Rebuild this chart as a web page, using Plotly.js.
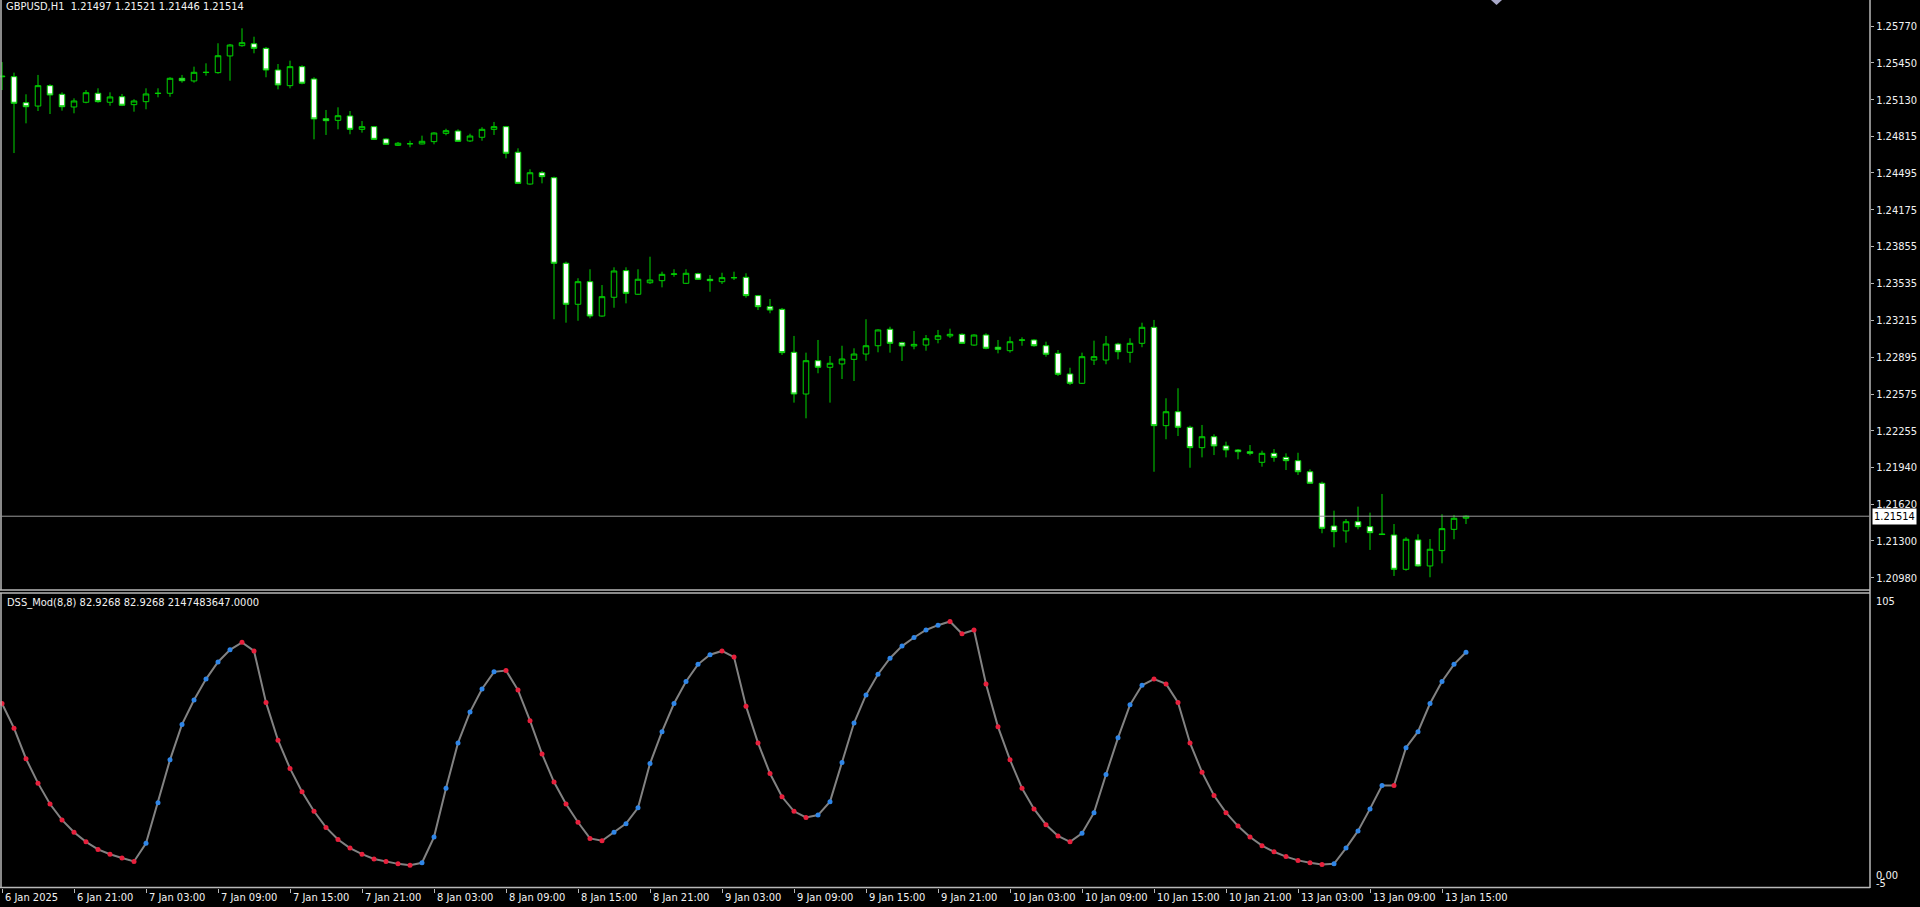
<!DOCTYPE html>
<html>
<head>
<meta charset="utf-8">
<script src="https://cdn.plot.ly/plotly-3.0.1.min.js"></script>
<style>
html,body{margin:0;padding:0;background:#000;}
#chart{width:1920px;height:907px;}
</style>
</head>
<body>
<div id="chart"></div>
<script>
// ---- data (GBPUSD H1, one bar per hour) ----
const openP = [1.25336,1.25330,1.25104,1.25075,1.25252,1.25177,1.25067,1.25108,1.25186,1.25108,
1.25156,1.25087,1.25113,1.25184,1.25186,1.25316,1.25293,1.25366,1.25365,1.25510,
1.25599,1.25616,1.25576,1.25388,1.25252,1.25417,1.25310,1.24965,1.24951,1.24989,
1.24873,1.24896,1.24789,1.24734,1.24747,1.24746,1.24766,1.24838,1.24858,1.24772,
1.24804,1.24873,1.24896,1.24674,1.24398,1.24496,1.24453,1.23710,1.23354,1.23550,
1.23252,1.23415,1.23646,1.23441,1.23541,1.23559,1.23614,1.23536,1.23620,1.23571,
1.23550,1.23584,1.23588,1.23429,1.23333,1.23310,1.22937,1.22575,1.22864,1.22807,
1.22836,1.22876,1.22922,1.22994,1.23137,1.23020,1.22992,1.23000,1.23050,1.23079,
1.23093,1.23000,1.23087,1.22981,1.22951,1.23042,1.23044,1.22994,1.22928,1.22749,
1.22668,1.22870,1.22870,1.23009,1.22937,1.23015,1.23154,1.22300,1.22421,1.22286,
1.22109,1.22204,1.22124,1.22089,1.22074,1.21982,1.22060,1.22025,1.21996,1.21900,
1.21800,1.21429,1.21386,1.21466,1.21423,1.21360,1.21351,1.21053,1.21308,1.21082,
1.21215,1.21400,1.21497];
const highP = [1.25457,1.25365,1.25177,1.25345,1.25264,1.25194,1.25142,1.25214,1.25229,1.25194,
1.25180,1.25134,1.25229,1.25229,1.25325,1.25345,1.25417,1.25446,1.25620,1.25614,
1.25750,1.25677,1.25588,1.25440,1.25469,1.25429,1.25325,1.25041,1.25064,1.25032,
1.24945,1.24902,1.24795,1.24763,1.24774,1.24818,1.24847,1.24878,1.24873,1.24835,
1.24891,1.24937,1.24902,1.24708,1.24526,1.24511,1.24462,1.23724,1.23580,1.23658,
1.23521,1.23675,1.23675,1.23658,1.23767,1.23637,1.23658,1.23658,1.23628,1.23608,
1.23628,1.23637,1.23623,1.23435,1.23400,1.23322,1.23079,1.22934,1.23044,1.22905,
1.22994,1.22972,1.23224,1.23137,1.23159,1.23029,1.23122,1.23087,1.23131,1.23142,
1.23102,1.23093,1.23102,1.23044,1.23073,1.23067,1.23050,1.23029,1.22957,1.22803,
1.22934,1.23038,1.23079,1.23020,1.23059,1.23194,1.23218,1.22538,1.22625,1.22300,
1.22306,1.22225,1.22161,1.22097,1.22132,1.22083,1.22097,1.22060,1.22065,1.21921,
1.21814,1.21562,1.21490,1.21597,1.21545,1.21707,1.21446,1.21331,1.21357,1.21316,
1.21531,1.21525,1.21521];
const lowP = [1.25214,1.24667,1.24925,1.25032,1.25006,1.25035,1.25012,1.25099,1.25104,1.25078,
1.25075,1.25026,1.25047,1.25151,1.25156,1.25278,1.25278,1.25339,1.25356,1.25295,
1.25590,1.25533,1.25325,1.25220,1.25229,1.25264,1.24786,1.24824,1.24873,1.24830,
1.24844,1.24780,1.24737,1.24728,1.24717,1.24743,1.24743,1.24821,1.24763,1.24763,
1.24774,1.24824,1.24621,1.24398,1.24392,1.24404,1.23224,1.23194,1.23211,1.23232,
1.23246,1.23324,1.23362,1.23435,1.23530,1.23501,1.23593,1.23530,1.23565,1.23463,
1.23530,1.23565,1.23411,1.23304,1.23276,1.22914,1.22500,1.22364,1.22755,1.22500,
1.22705,1.22688,1.22864,1.22937,1.22934,1.22862,1.22963,1.22951,1.23015,1.23061,
1.23009,1.22994,1.22963,1.22928,1.22934,1.22994,1.22986,1.22899,1.22731,1.22653,
1.22662,1.22827,1.22833,1.22876,1.22847,1.22981,1.21900,1.22182,1.22210,1.21935,
1.22025,1.22045,1.22025,1.22008,1.22043,1.21944,1.21987,1.21915,1.21872,1.21794,
1.21366,1.21244,1.21284,1.21400,1.21221,1.21351,1.20995,1.21041,1.21076,1.20984,
1.21105,1.21314,1.21446];
const closeP = [1.25330,1.25099,1.25069,1.25252,1.25171,1.25069,1.25119,1.25191,1.25113,1.25154,
1.25082,1.25119,1.25180,1.25186,1.25316,1.25295,1.25368,1.25368,1.25512,1.25605,
1.25625,1.25576,1.25388,1.25258,1.25417,1.25273,1.24963,1.24948,1.24991,1.24873,
1.24896,1.24786,1.24743,1.24752,1.24748,1.24769,1.24841,1.24861,1.24769,1.24815,
1.24873,1.24896,1.24665,1.24404,1.24496,1.24462,1.23710,1.23354,1.23550,1.23252,
1.23420,1.23643,1.23449,1.23571,1.23565,1.23614,1.23617,1.23623,1.23571,1.23559,
1.23585,1.23585,1.23429,1.23333,1.23304,1.22934,1.22575,1.22864,1.22807,1.22842,
1.22879,1.22922,1.22994,1.23131,1.23015,1.22992,1.23006,1.23055,1.23081,1.23093,
1.23015,1.23087,1.22972,1.22963,1.23029,1.23044,1.22994,1.22920,1.22746,1.22668,
1.22899,1.22899,1.23009,1.22942,1.23015,1.23154,1.22300,1.22421,1.22286,1.22109,
1.22204,1.22124,1.22089,1.22074,1.22060,1.22060,1.22025,1.21996,1.21900,1.21800,
1.21409,1.21380,1.21466,1.21423,1.21371,1.21355,1.21053,1.21314,1.21082,1.21227,
1.21406,1.21496,1.21514];
const dssValues = [63.8,54.6,43.2,34.1,26.3,20.4,15.8,12.2,9.4,7.6,6.2,4.9,
11.7,26.8,42.8,56.0,65.1,72.9,79.3,83.8,86.6,
83.4,64.2,50.1,39.6,30.9,23.6,17.6,13.1,9.9,7.6,5.8,4.9,4.0,3.5,4.4,
14.0,32.2,49.1,60.6,69.2,75.6,76.1,
68.8,57.4,45.0,34.5,26.3,19.5,13.5,12.6,
15.8,19.0,24.9,41.4,53.3,63.8,72.0,78.4,82.0,83.4,
81.1,62.8,49.1,37.7,29.0,23.6,21.3,22.2,
27.2,41.8,56.5,67.0,74.7,80.7,85.2,88.4,91.2,93.0,94.4,
89.8,91.2,71.1,55.1,42.8,32.2,24.5,18.6,14.4,12.2,
15.4,23.1,37.3,51.0,63.3,70.6,72.9,
71.1,64.2,49.1,38.2,29.5,23.1,18.1,14.0,10.8,8.5,6.7,5.3,4.4,3.8,4.0,
9.9,16.3,24.5,33.2,33.2,47.3,53.3,63.8,72.0,78.4,82.9268];
// dot state: 1 = rising (blue dot), 0 = falling (red dot)
const dssRising = [0,0,0,0,0,0,0,0,0,0,0,0,
1,1,1,1,1,1,1,1,
0,0,0,0,0,0,0,0,0,0,0,0,0,0,0,
1,1,1,1,1,1,1,
0,0,0,0,0,0,0,0,0,
1,1,1,1,1,1,1,1,1,
0,0,0,0,0,0,0,0,
1,1,1,1,1,1,1,1,1,1,1,
0,0,0,0,0,0,0,0,0,0,0,
1,1,1,1,1,1,
0,0,0,0,0,0,0,0,0,0,0,0,0,0,0,
1,1,1,1,1,
0,
1,1,1,1,1,1];
const timeTickIdx = [0,6,12,18,24,30,36,42,48,54,60,66,72,78,84,90,96,102,108,114,120];
const timeTickText = ['6 Jan 2025','6 Jan 21:00','7 Jan 03:00','7 Jan 09:00','7 Jan 15:00','7 Jan 21:00',
'8 Jan 03:00','8 Jan 09:00','8 Jan 15:00','8 Jan 21:00','9 Jan 03:00','9 Jan 09:00','9 Jan 15:00',
'9 Jan 21:00','10 Jan 03:00','10 Jan 09:00','10 Jan 15:00','10 Jan 21:00','13 Jan 03:00',
'13 Jan 09:00','13 Jan 15:00'];
const priceTicks = [1.25770,1.25450,1.25130,1.24815,1.24495,1.24175,1.23855,1.23535,1.23215,
1.22895,1.22575,1.22255,1.21940,1.21620,1.21300,1.20980];
const lastPrice = 1.21514;
const titleText = 'GBPUSD,H1\u00a0\u00a01.21497 1.21521 1.21446 1.21514';
const dssLabel = 'DSS_Mod(8,8) 82.9268 82.9268 2147483647.0000';

// ---- build ----
const idx = openP.map((_, i) => i);
const dotColors = dssRising.map(s => s ? '#2f86e8' : '#e8203c');
const GREEN = '#00d400';
const FONT = '"Liberation Sans Narrow", "DejaVu Sans Condensed", "Liberation Sans", Arial, sans-serif';
const FS = 11;
const TXT = '#f2f2f2';
const AX = '#b8b8b8';

const W = 1920, H = 907, ML = 0, MR = 50, MT = 0, MB = 19;
const PW = W - ML - MR, PH = H - MT - MB;
const py = px => (PH - px) / PH;   // pixel row -> paper y
const pxX = px => px / PW;         // pixel col -> paper x
const mainBottom = 590, subTop = 593;

const traces = [
  {type:'candlestick', x: idx, open: openP, high: highP, low: lowP, close: closeP,
   xaxis:'x', yaxis:'y', whiskerwidth: 0, hoverinfo:'skip',
   increasing:{line:{color:GREEN, width:1}, fillcolor:'#000000'},
   decreasing:{line:{color:GREEN, width:1}, fillcolor:'#ffffff'}},
  {type:'scatter', mode:'lines', x: idx, y: dssValues, xaxis:'x', yaxis:'y2',
   line:{color:'#828282', width:2}, hoverinfo:'skip'},
  {type:'scatter', mode:'markers', x: idx, y: dssValues, xaxis:'x', yaxis:'y2',
   marker:{color: dotColors, size:5, line:{width:0}}, hoverinfo:'skip'}
];

const tf = {family:FONT, size:FS, color:TXT};
const annotations = [
  {xref:'paper', yref:'paper', x: pxX(4), y: py(7), xanchor:'left', yanchor:'middle',
   text: titleText, showarrow:false, font:tf},
  {xref:'paper', yref:'paper', x: pxX(5), y: py(602), xanchor:'left', yanchor:'middle',
   text: dssLabel, showarrow:false, font:tf},
  {xref:'paper', yref:'y', x: pxX(1872), y: lastPrice, xanchor:'left', yanchor:'middle',
   text: lastPrice.toFixed(5), showarrow:false, bgcolor:'#ffffff', borderpad:1,
   font:{family:FONT, size:FS, color:'#000000'}},
  {xref:'paper', yref:'paper', x: pxX(1874), y: py(601), xanchor:'left', yanchor:'middle',
   text:'105', showarrow:false, font:tf},
  {xref:'paper', yref:'paper', x: pxX(1874), y: py(875), xanchor:'left', yanchor:'middle',
   text:'0.00', showarrow:false, font:tf},
  {xref:'paper', yref:'paper', x: pxX(1874), y: py(883), xanchor:'left', yanchor:'middle',
   text:'-5', showarrow:false, font:tf}
];
timeTickIdx.forEach((t, k) => {
  annotations.push({xref:'x', yref:'paper', x: t, y: py(897), xanchor:'left', yanchor:'middle',
    xshift: 1, text: timeTickText[k], showarrow:false, font:tf});
});

const shapes = [
  // pane borders
  {type:'line', xref:'paper', yref:'paper', x0:pxX(1), x1:pxX(1), y0:py(0), y1:py(mainBottom), line:{color:AX, width:1.5}},
  {type:'line', xref:'paper', yref:'paper', x0:pxX(1), x1:pxX(1), y0:py(subTop), y1:py(PH), line:{color:AX, width:1.5}},
  {type:'line', xref:'paper', yref:'paper', x0:1, x1:1, y0:py(0), y1:py(PH), line:{color:AX, width:1.5}},
  {type:'line', xref:'paper', yref:'paper', x0:0, x1:1, y0:py(mainBottom), y1:py(mainBottom), line:{color:AX, width:1.5}},
  {type:'line', xref:'paper', yref:'paper', x0:0, x1:1, y0:py(subTop), y1:py(subTop), line:{color:AX, width:1.5}},
  {type:'line', xref:'paper', yref:'paper', x0:0, x1:1, y0:py(PH-0.5), y1:py(PH-0.5), line:{color:AX, width:1.5}},
  // bid line
  {type:'line', xref:'paper', yref:'y', x0:0, x1:1, y0:lastPrice, y1:lastPrice, line:{color:'#9a9a9a', width:1}},
  // small marker at the top edge
  {type:'path', xref:'paper', yref:'paper',
   path:`M ${pxX(1491)},${py(0)} L ${pxX(1502)},${py(0)} L ${pxX(1496.5)},${py(5)} Z`,
   fillcolor:'#a8a8c8', line:{width:0}}
];

const layout = {
  width: W, height: H,
  margin:{l:ML, r:MR, t:MT, b:MB, pad:0},
  paper_bgcolor:'#000000', plot_bgcolor:'#000000',
  showlegend:false, boxgap:0.34,
  font:tf,
  xaxis:{range:[-1/6, PW/12 - 1/6], anchor:'y2', showgrid:false, zeroline:false, showline:false,
    tickmode:'array', tickvals: timeTickIdx, showticklabels:false,
    ticks:'outside', ticklen:4, tickcolor:AX, tickwidth:1,
    rangeslider:{visible:false}, fixedrange:true},
  yaxis:{domain:[py(mainBottom), 1], range:[1.25770 - (mainBottom - 26)/11518, 1.25770 + 26/11518],
    side:'right', anchor:'x', showgrid:false, zeroline:false, showline:false,
    tickmode:'array', tickvals: priceTicks, ticktext: priceTicks.map(v => v.toFixed(5)),
    ticks:'outside', ticklen:3, tickcolor:AX, tickwidth:1,
    tickfont:tf, fixedrange:true},
  yaxis2:{domain:[0, py(subTop)], range:[-5, 105], anchor:'x', showgrid:false, zeroline:false,
    showline:false, showticklabels:false, ticks:'', fixedrange:true},
  annotations, shapes
};

Plotly.newPlot('chart', traces, layout, {staticPlot:true, displayModeBar:false});
</script>
</body>
</html>
